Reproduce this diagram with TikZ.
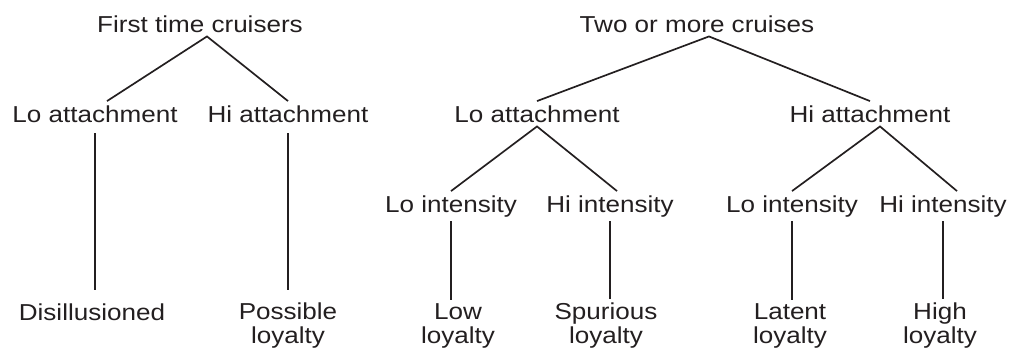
\documentclass[tikz,border=0pt]{standalone}
\usepackage{fontspec}
\setmainfont{Liberation Sans}[FakeStretch=1.13]
\usepackage{tikz}
\usetikzlibrary{calc}

\definecolor{ink}{RGB}{35,31,32}

\tikzset{
	item/.style={anchor=base, inner sep=2.8pt, text=ink, align=center, font=\fontsize{16.4}{16.4}\selectfont},
	branch/.style={draw=ink, line width=1.2pt},
	stem/.style={draw=ink, line width=1pt}
}

\begin{document}
\begin{tikzpicture}

				\useasboundingbox (0, 0) rectangle (25.225, -8.8);

				\node[item] (first) at (5.0, -0.8) {First time cruisers};
				\node[item] (floatt) at (2.375, -3.05) {Lo attachment};
				\node[item] (fhiatt) at (7.2, -3.05) {Hi attachment};
				\node[item] (disil) at (2.3, -8.0) {Disillusioned};
				\node[item] (possib) at (7.2, -8.575) {Possible\\loyalty};

				\node[item] (repeat) at (17.425, -0.8) {Two or more cruises};
				\node[item] (rloatt) at (13.425, -3.05) {Lo attachment};
				\node[item] (rhiatt) at (21.75, -3.05) {Hi attachment};
				\node[item] (loloint) at (11.275, -5.3) {Lo intensity};
				\node[item] (lohiint) at (15.25, -5.3) {Hi intensity};
				\node[item] (hiloint) at (19.8, -5.3) {Lo intensity};
				\node[item] (hihiint) at (23.575, -5.3) {Hi intensity};
				\node[item] (low) at (11.45, -8.575) {Low\\loyalty};
				\node[item] (spur) at (15.15, -8.575) {Spurious\\loyalty};
				\node[item] (latent) at (19.75, -8.575) {Latent\\loyalty};
				\node[item] (high) at (23.5, -8.575) {High\\loyalty};

				\draw[branch] ([xshift=0.3cm]floatt.north)--([xshift=0.175cm]first.south)--(fhiatt.north);
				\draw[stem, shorten <=0.175cm, shorten >=0.225cm] (floatt.south)--(floatt.south |- disil.north);
				\draw[stem, shorten <=0.175cm, shorten >=0.225cm] (fhiatt.south)--(fhiatt.south |- possib.north);

				\draw[branch] (rloatt.north)--([xshift=0.3cm]repeat.south)--(rhiatt.north);
				\draw[branch] (loloint.north)--(rloatt.south)--([xshift=0.175cm]lohiint.north);
				\draw[branch] (hiloint.north)--([xshift=0.25cm]rhiatt.south)--([xshift=0.35cm]hihiint.north);
				\draw[stem] (loloint.south)--(loloint.south |- low.north);
				\draw[stem] (lohiint.south)--(lohiint.south |- spur.north);
				\draw[stem] (hiloint.south)--(hiloint.south |- latent.north);
				\draw[stem] (hihiint.south)--(hihiint.south |- high.north);
			\end{tikzpicture}
\end{document}
